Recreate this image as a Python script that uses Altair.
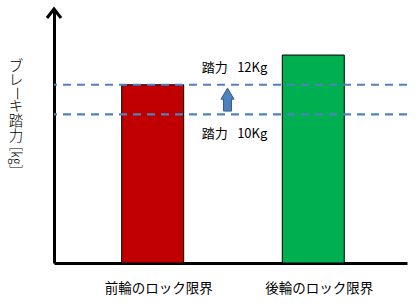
import altair as alt
import pandas as pd

# ---- data ----
categories = ["前輪のロック限界", "後輪のロック限界"]
bar_values = [12, 14]
bar_colors = ["#C00000", "#00B050"]
line_values = [12, 10]
line_labels = ["踏力\u2002 12Kg", "踏力\u2002 10Kg"]
y_title_parts = ["ブ", "レ", "ー", "キ", "踏", "力", "[㎏]"]

FONT = "Noto Sans CJK JP"
YMAX = 17.1

bars_df = pd.DataFrame({"cat": categories, "val": bar_values, "color": bar_colors})
lines_df = pd.DataFrame({"val": line_values, "label": line_labels})

x_scale = alt.Scale(domain=categories, paddingInner=0.614, paddingOuter=0.406, align=0.519)
y_scale = alt.Scale(domain=[0, YMAX], nice=False, zero=True)

bars = alt.Chart(bars_df).mark_bar(stroke="black", strokeWidth=1).encode(
    x=alt.X("cat:N", scale=x_scale, sort=categories,
            axis=alt.Axis(title=None, labelAngle=0, ticks=False, domain=True,
                          domainColor="black", domainWidth=3, labelFont=FONT,
                          labelFontSize=13.5, labelColor="black", labelPadding=18,
                          labelOffset=6)),
    y=alt.Y("val:Q", scale=y_scale,
            axis=alt.Axis(title=None, labels=False, ticks=False, grid=False,
                          domain=True, domainColor="black", domainWidth=3)),
    color=alt.Color("color:N", scale=None),
)

rules = alt.Chart(lines_df).mark_rule(color="#4F81BD", strokeWidth=2.2, strokeDash=[8, 6]).encode(
    y=alt.Y("val:Q", scale=y_scale)
)

# labels above / below the dashed lines
lab_df = pd.DataFrame({"label": line_labels, "pos": [line_values[0] + 1.1, line_values[1] - 1.3]})
labels = alt.Chart(lab_df).mark_text(font=FONT, fontSize=13, color="black").encode(
    x=alt.value(180.5),
    y=alt.Y("pos:Q", scale=y_scale),
    text="label:N",
)

# blue arrow between the two lines
arrow_df = pd.DataFrame({"mid": [(line_values[0] + line_values[1]) / 2]})
arrow_path = "M0,-1 L0.57,-0.04 L0.35,-0.04 L0.35,1 L-0.35,1 L-0.35,-0.04 L-0.57,-0.04 Z"
arrow = alt.Chart(arrow_df).mark_point(
    shape=arrow_path, size=529, filled=True, fill="#4F81BD", stroke="#385D8A",
    strokeWidth=1, opacity=1
).encode(x=alt.value(173.5), y=alt.Y("mid:Q", scale=y_scale))

# arrowhead on the y axis
head = alt.Chart(pd.DataFrame({"a": [0]})).mark_point(
    shape="M-1,0.64 L0,-0.64 L1,0.64", size=196, filled=False, stroke="black",
    strokeWidth=3, opacity=1
).encode(x=alt.value(0), y=alt.value(4.5))

# vertical y-axis title
offsets = [57.5, 72, 84.5, 98, 113, 128, 149]
angles = [0, 0, 90, 0, 0, 0, 90]
title_layers = []
for ch, yy, ang in zip(y_title_parts, offsets, angles):
    size = 13.5 if ch == "[㎏]" else 14.5
    title_layers.append(
        alt.Chart(pd.DataFrame({"t": [ch]})).mark_text(
            font=FONT, fontSize=size, fontWeight=300, color="black", angle=ang
        ).encode(x=alt.value(-38), y=alt.value(yy), text="t:N")
    )

chart = alt.layer(bars, rules, labels, arrow, head, *title_layers).properties(
    width=353, height=254,
    padding={"left": 54, "top": 9, "right": 12, "bottom": 43},
    autosize=alt.AutoSizeParams(type="none"),
    background="white",
).configure_view(stroke=None)

chart.save("out.html", embed_options={"renderer": "svg", "actions": False})
